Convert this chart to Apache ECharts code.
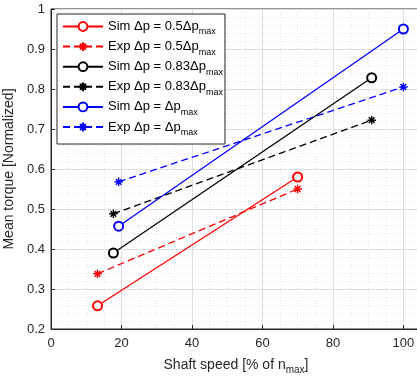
<!DOCTYPE html>
<html><head><meta charset="utf-8">
<script src="https://cdn.jsdelivr.net/npm/echarts@6/dist/echarts.min.js"></script>
<style>html,body{margin:0;padding:0;background:#fff}#c{width:417px;height:377px}</style>
</head><body><div id="c"></div>
<script>
// Data (shaft speed % of n_max, mean torque normalized)
const simLowX = [13.2, 70];   const simLowY = [0.258, 0.58];
const expLowX = [13.2, 70];   const expLowY = [0.338, 0.55];
const simMidX = [17.7, 91];   const simMidY = [0.39, 0.828];
const expMidX = [17.7, 91];   const expMidY = [0.488, 0.722];
const simMaxX = [19.2, 100];  const simMaxY = [0.457, 0.95];
const expMaxX = [19.2, 100];  const expMaxY = [0.568, 0.805];
const seriesNames = ['Sim Δp = 0.5Δp', 'Exp Δp = 0.5Δp', 'Sim Δp = 0.83Δp', 'Exp Δp = 0.83Δp', 'Sim Δp = Δp', 'Exp Δp = Δp'];
const xTicks = [0, 20, 40, 60, 80, 100];
const yTicks = [0.2, 0.3, 0.4, 0.5, 0.6, 0.7, 0.8, 0.9, 1];

const FONT = 'Liberation Sans, Arial, sans-serif';
const TXT = '#262626';
const STAR = 'path://M5,0L5,10M0,5L10,5M1.6,1.6L8.4,8.4M1.6,8.4L8.4,1.6';

function pairs(xs, ys){ return xs.map((x,i)=>[x, ys[i]]); }
function mk(name, xs, ys, color, dashed){
  return {
    name: name, type: 'line', data: pairs(xs, ys),
    symbol: dashed ? STAR : 'emptyCircle',
    symbolSize: dashed ? 8.5 : 9,
    showSymbol: true,
    lineStyle: {color: color, width: 1.3, type: dashed ? [7,4] : 'solid'},
    itemStyle: {color: color, borderColor: color, borderWidth: 1.4},
    emphasis: {disabled: true},
    animation: false, z: 3
  };
}
const subRich = {
  m: {fontFamily: FONT, fontSize: 13, color: '#000', lineHeight: 20},
  s: {fontFamily: FONT, fontSize: 9, color: '#000', lineHeight: 20, verticalAlign: 'bottom'}
};

const chart = echarts.init(document.getElementById('c'), null, {renderer: 'canvas'});
chart.setOption({
  animation: false,
  backgroundColor: '#fff',
  grid: {left: 51, width: 370, top: 9, bottom: 48, outerBoundsMode: 'none', containLabel: false,
    show: true, borderColor: TXT, borderWidth: 1, backgroundColor: 'transparent'},
  legend: {
    orient: 'vertical', left: 57, top: 14,
    data: seriesNames,
    itemWidth: 40, itemHeight: 11, itemGap: 3.6,
    padding: [6, 2, 7, 5],
    backgroundColor: '#fff', borderColor: TXT, borderWidth: 1,
    formatter: n => '{m|' + n + '}{s|max}',
    textStyle: {rich: subRich, fontFamily: FONT, fontSize: 13, color: '#000'},
    selectedMode: false, z: 10
  },
  xAxis: {
    type: 'value', min: 0, max: 105, interval: 20,
    name: '{m|Shaft speed [% of n}{s|max}{m|]}',
    nameLocation: 'middle', nameGap: 26,
    nameTextStyle: {rich: {
      m: {fontFamily: FONT, fontSize: 14, color: TXT, lineHeight: 20},
      s: {fontFamily: FONT, fontSize: 10, color: TXT, lineHeight: 20, verticalAlign: 'bottom'}
    }},
    axisLine: {show: true, lineStyle: {color: TXT, width: 1}},
    axisTick: {show: true, inside: true, length: 4, lineStyle: {color: TXT}},
    minorTick: {show: true, splitNumber: 4, length: 0},
    axisLabel: {color: TXT, fontFamily: FONT, fontSize: 13, margin: 8, showMaxLabel: false,
      formatter: v => xTicks.includes(v) ? String(v) : ''},
    splitLine: {show: true, lineStyle: {color: '#dedede', width: 1}},
    minorSplitLine: {show: true, lineStyle: {color: '#e4e4e4', width: 1, type: [1, 2]}}
  },
  yAxis: {
    type: 'value', min: 0.2, max: 1, interval: 0.1,
    name: 'Mean torque [Normalized]',
    nameLocation: 'middle', nameGap: 34,
    nameTextStyle: {fontFamily: FONT, fontSize: 14, color: TXT},
    axisLine: {show: true, lineStyle: {color: TXT, width: 1}},
    axisTick: {show: true, inside: true, length: 4, lineStyle: {color: TXT}},
    minorTick: {show: true, splitNumber: 5, length: 0},
    axisLabel: {color: TXT, fontFamily: FONT, fontSize: 13, margin: 6,
      formatter: v => { const r = Math.round(v*10)/10; return yTicks.includes(r) ? String(r) : ''; }},
    splitLine: {show: true, lineStyle: {color: '#dedede', width: 1}},
    minorSplitLine: {show: true, lineStyle: {color: '#e4e4e4', width: 1, type: [1, 2]}}
  },
  series: [
    mk(seriesNames[0], simLowX, simLowY, '#ff0000', false),
    mk(seriesNames[1], expLowX, expLowY, '#ff0000', true),
    mk(seriesNames[2], simMidX, simMidY, '#000000', false),
    mk(seriesNames[3], expMidX, expMidY, '#000000', true),
    mk(seriesNames[4], simMaxX, simMaxY, '#0000ff', false),
    mk(seriesNames[5], expMaxX, expMaxY, '#0000ff', true)
  ]
});
</script></body></html>
